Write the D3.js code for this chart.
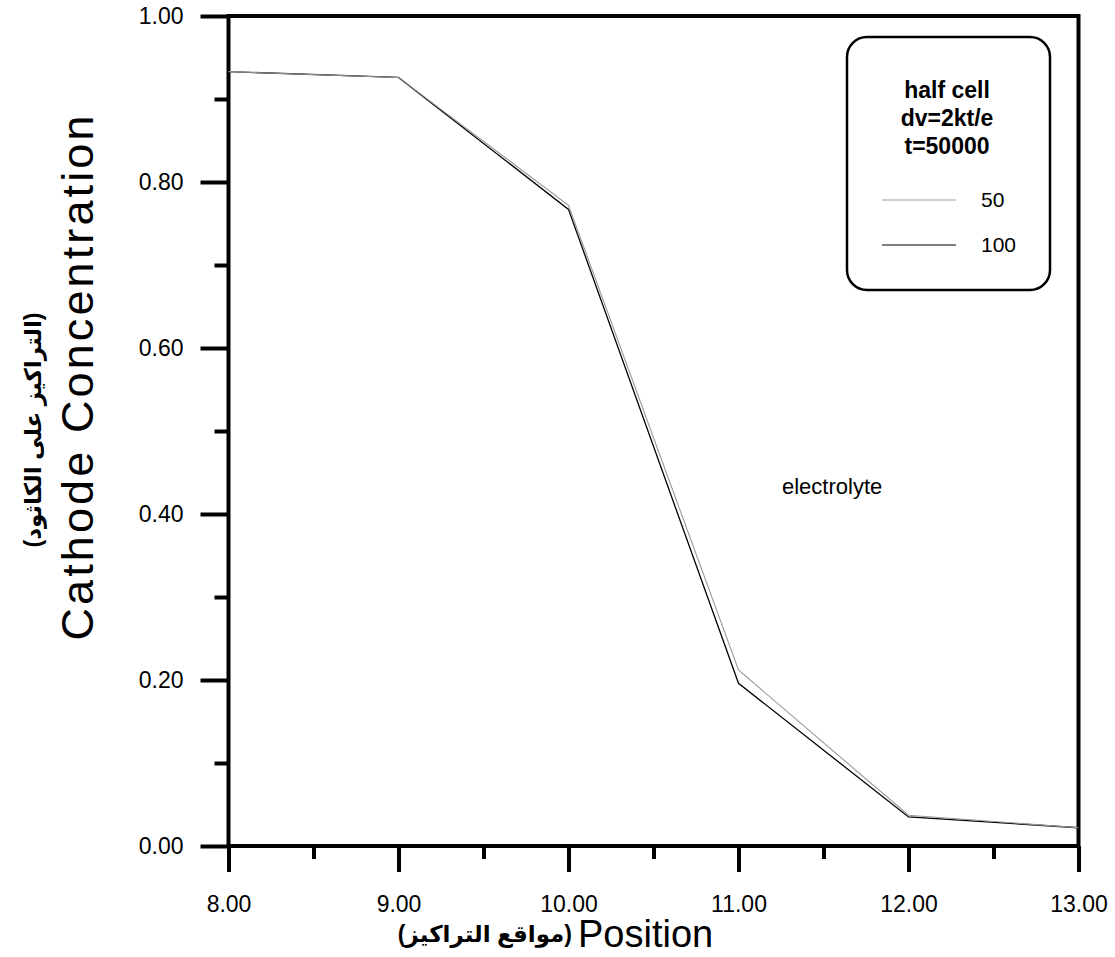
<!DOCTYPE html>
<html>
<head>
<meta charset="utf-8">
<script src="https://cdn.jsdelivr.net/npm/d3@7"></script>
<style>
  body { margin: 0; background: #fff; }
  svg text { font-family: "Liberation Sans", Arial, "DejaVu Sans", sans-serif; }
</style>
</head>
<body>
<svg id="chart" width="1115" height="957"></svg>
<script>
// --- Data ---
const positions = [8, 9, 10, 11, 12, 13];
const conc50  = [0.933, 0.926, 0.772, 0.212, 0.037, 0.022];
const conc100 = [0.933, 0.926, 0.767, 0.196, 0.035, 0.022];
const xTicks = [8, 9, 10, 11, 12, 13];
const xMinor = [8.5, 9.5, 10.5, 11.5, 12.5];
const yTicks = [0, 0.2, 0.4, 0.6, 0.8, 1.0];
const yMinor = [0.1, 0.3, 0.5, 0.7, 0.9];
const legendTitle = ["half cell", "dv=2kt/e", "t=50000"];
const legendItems = ["50", "100"];

// --- Layout ---
const plotL = 228.5, plotR = 1078.5, plotT = 16, plotB = 846;
const svg = d3.select("#chart");

const x = d3.scaleLinear().domain([8, 13]).range([plotL, plotR]);
const y = d3.scaleLinear().domain([0, 1]).range([plotB, plotT]);
const fmt = d3.format(".2f");

// frame
svg.append("rect")
    .attr("x", plotL).attr("y", plotT)
    .attr("width", plotR - plotL).attr("height", plotB - plotT)
    .attr("fill", "none").attr("stroke", "#000").attr("stroke-width", 4);

// x axis ticks
const xAxis = d3.axisBottom(x).tickValues(xTicks).tickSize(26).tickFormat(fmt);
const gx = svg.append("g").attr("transform", `translate(0,${plotB})`).call(xAxis);
gx.select(".domain").remove();
gx.selectAll(".tick line").attr("stroke-width", 4);
gx.selectAll(".tick text").attr("font-size", 23).attr("y", 66).attr("dy", 0)
    .attr("font-family", "Liberation Sans, Arial, sans-serif");
const gxm = svg.append("g").attr("transform", `translate(0,${plotB})`)
    .call(d3.axisBottom(x).tickValues(xMinor).tickSize(13).tickFormat(""));
gxm.select(".domain").remove();
gxm.selectAll(".tick line").attr("stroke-width", 4);

// y axis ticks
const yAxis = d3.axisLeft(y).tickValues(yTicks).tickSize(28).tickFormat(fmt);
const gy = svg.append("g").attr("transform", `translate(${plotL},0)`).call(yAxis);
gy.select(".domain").remove();
gy.selectAll(".tick line").attr("stroke-width", 4);
gy.selectAll(".tick text").attr("font-size", 23).attr("x", -45)
    .attr("font-family", "Liberation Sans, Arial, sans-serif");
const gym = svg.append("g").attr("transform", `translate(${plotL},0)`)
    .call(d3.axisLeft(y).tickValues(yMinor).tickSize(14).tickFormat(""));
gym.select(".domain").remove();
gym.selectAll(".tick line").attr("stroke-width", 4);

// lines
const line = d3.line().x((d, i) => x(positions[i])).y(d => y(d));
svg.append("path").datum(conc100).attr("d", line)
    .attr("fill", "none").attr("stroke", "#000").attr("stroke-width", 1.3);
svg.append("path").datum(conc50).attr("d", line)
    .attr("fill", "none").attr("stroke", "#999").attr("stroke-width", 1.1);

// annotation
svg.append("text").attr("x", 782).attr("y", 494)
    .attr("font-size", 22).text("electrolyte");

// legend
const lg = svg.append("g");
lg.append("rect").attr("x", 847).attr("y", 37).attr("width", 203).attr("height", 253)
    .attr("rx", 20).attr("fill", "#fff").attr("stroke", "#000").attr("stroke-width", 2.5);
lg.selectAll("text.title").data(legendTitle).enter().append("text")
    .attr("class", "title")
    .attr("x", 947).attr("y", (d, i) => 98 + i * 28)
    .attr("text-anchor", "middle").attr("font-size", 23).attr("font-weight", "bold")
    .text(d => d);
const itemColors = ["#a0a0a0", "#000"];
legendItems.forEach((d, i) => {
  const yy = 200 + i * 45;
  lg.append("line").attr("x1", 882).attr("x2", 956).attr("y1", yy).attr("y2", yy)
      .attr("stroke", itemColors[i]).attr("stroke-width", 1.2);
  lg.append("text").attr("x", 981).attr("y", yy + 7)
      .attr("font-size", 21).text(d);
});

// axis titles
svg.append("text").attr("x", 578).attr("y", 947)
    .attr("font-size", 38).text("Position");
svg.append("text").attr("x", 572).attr("y", 942)
    .attr("text-anchor", "end").attr("font-size", 23).attr("font-weight", "bold")
    .attr("font-family", "DejaVu Sans, sans-serif")
    .text("(مواقع التراكيز)");

svg.append("text")
    .attr("transform", "translate(93,378) rotate(-90)")
    .attr("text-anchor", "middle").attr("font-size", 45)
    .attr("textLength", 525).attr("lengthAdjust", "spacing")
    .text("Cathode Concentration");
svg.append("text")
    .attr("transform", "translate(41,430) rotate(-90)")
    .attr("text-anchor", "middle").attr("font-size", 23).attr("font-weight", "bold")
    .attr("font-family", "DejaVu Sans, sans-serif")
    .text("(التراكيز على الكاثود)");
</script>
</body>
</html>
